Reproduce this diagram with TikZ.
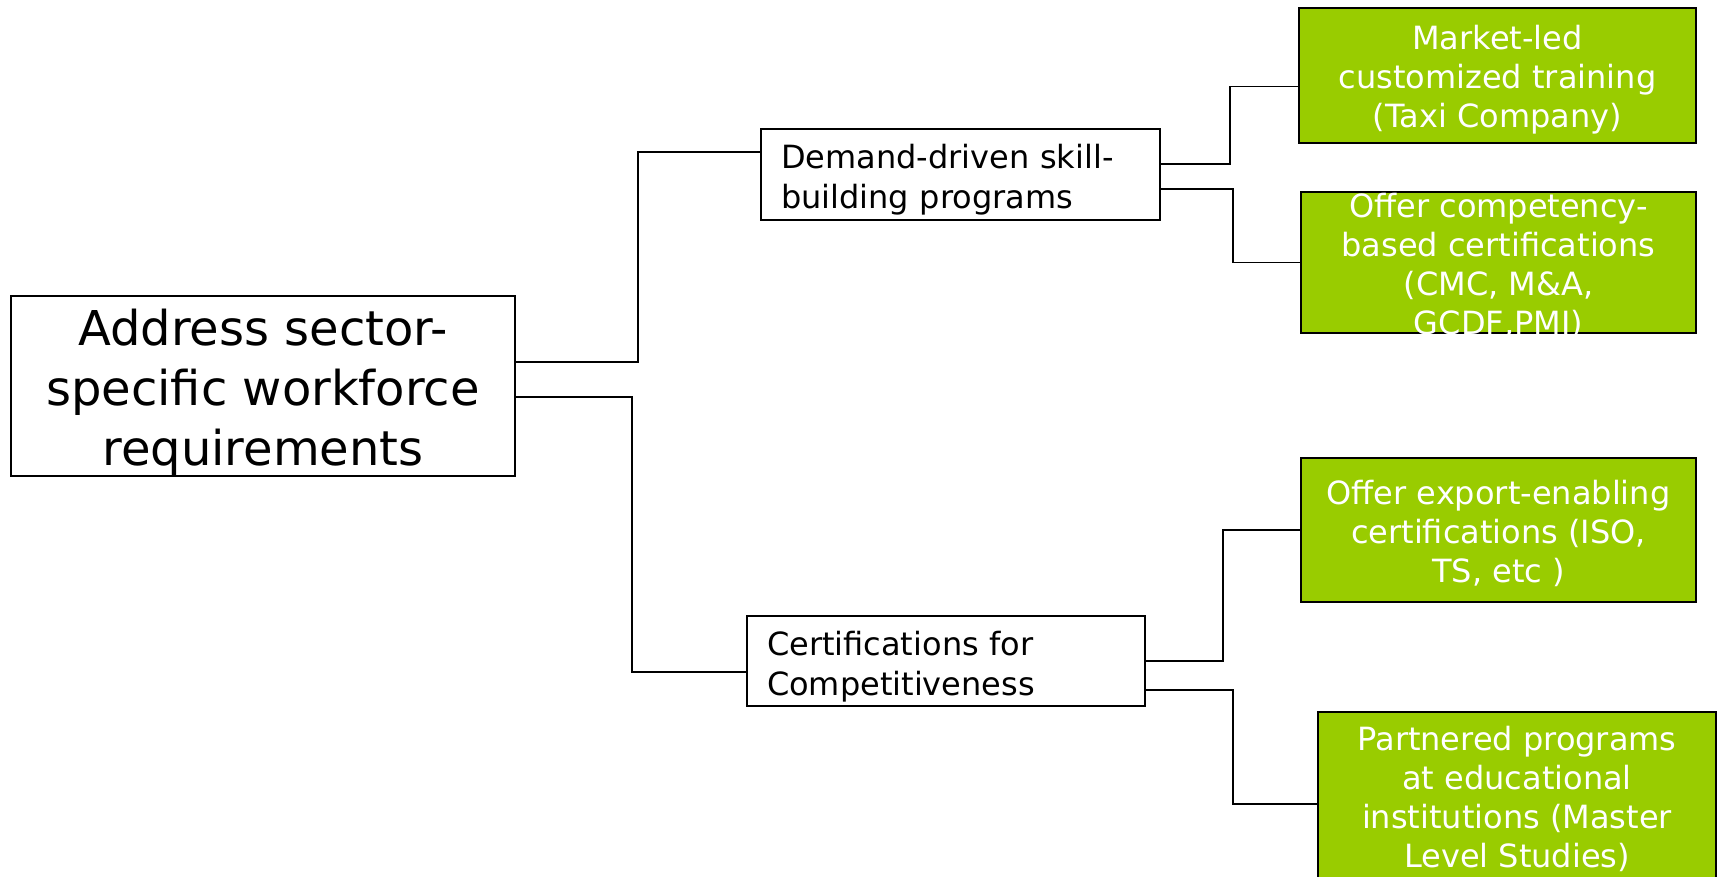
\documentclass[tikz,border=0pt]{standalone}
\usepackage{fontspec}
\setmainfont{DejaVu Sans}
\definecolor{leafgreen}{HTML}{99CC00}
\tikzset{
  box/.style={draw, line width=1.5pt, fill=white, inner sep=0pt},
  branch/.style={box, inner xsep=20pt, align=left, font=\fontsize{32}{40}\selectfont, execute at begin node={\rule{0pt}{35pt}}},
  leaf/.style={draw, line width=1.5pt, fill=leafgreen, inner sep=0pt, text=white, align=center, font=\fontsize{32}{39}\selectfont},
  link/.style={line width=1.5pt},
}
\begin{document}
\begin{tikzpicture}[x=1pt,y=-1pt]
\useasboundingbox (0,0) rectangle (1717,876);
% root and the two branches
\node[box, minimum width=504pt, minimum height=180pt, align=center, font=\fontsize{48}{60}\selectfont] (main) at (263,386) {\rule{0pt}{48pt}Address sector-\\specific workforce\\requirements};
\node[branch, text width=359pt, minimum height=91pt] (demand) at (960.5,174.5) {Demand-driven skill-\\building programs};
\node[branch, text width=358pt, minimum height=90pt] (cert) at (946,661) {Certifications for\\Competitiveness};
% leaves
\node[leaf, minimum width=397pt, minimum height=135pt] (market) at (1497.5,75.5) {\rule{0pt}{32pt}Market-led\\customized training\\(Taxi Company)};
\node[leaf, minimum width=395pt] (comp) at (1498.5,262.5) {\parbox[c][141pt][c]{395pt}{\vspace*{7pt}\centering Offer competency-\\based certifications\\(CMC, M\&A,\\GCDF,PMI)}};
\node[leaf, minimum width=395pt, minimum height=144pt] (export) at (1498.5,530) {\rule{0pt}{32pt}Offer export-enabling\\certifications (ISO,\\TS, etc )};
\node[leaf, minimum width=398pt, minimum height=168pt] (partner) at (1517,796) {\rule{0pt}{30pt}Partnered programs\\at educational\\institutions (Master\\Level Studies)};
% connectors
\draw[link] ([yshift=24pt]main.east) -- ++(122,0) |- ([yshift=22.5pt]demand.west);
\draw[link] ([yshift=-11pt]main.east) -- ++(116,0) |- ([yshift=-11pt]cert.west);
\draw[link] ([yshift=10.5pt]demand.east) -- ++(69,0) |- ([yshift=-11pt]market.west);
\draw[link] ([yshift=-14.5pt]demand.east) -- ++(72,0) |- (comp.west);
\draw[link] (cert.east) -- ++(77,0) |- (export.west);
\draw[link] ([yshift=-29pt]cert.east) -- ++(87,0) |- ([yshift=-8pt]partner.west);
\end{tikzpicture}
\end{document}
